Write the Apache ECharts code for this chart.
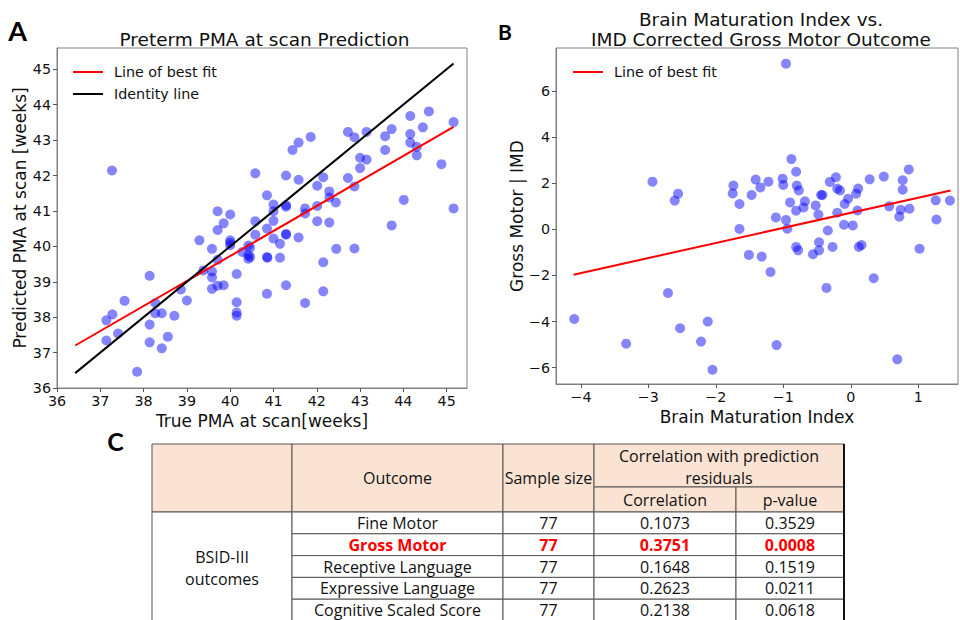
<!DOCTYPE html>
<html>
<head>
<meta charset="utf-8">
<title>PMA prediction and brain maturation index</title>
<script src="https://cdn.jsdelivr.net/npm/echarts@6/dist/echarts.min.js"></script>
<style>
  html, body { margin: 0; padding: 0; background: #fff; }
  #main { width: 960px; height: 620px; }
</style>
</head>
<body>
<div id="main"></div>
<script>
// panel A - true vs predicted PMA at scan (weeks)
const pmaPoints = [
  [37.27,42.14],[40.58,42.06],[40.85,41.44],[39.71,40.99],[40.0,40.9],[39.85,40.65],
  [39.71,40.46],[40.58,40.71],[40.85,40.5],[40.58,40.33],[39.29,40.17],[39.58,39.93],
  [40.0,40.17],[40.0,40.1],[40.0,40.03],[40.42,40.02],[40.28,39.84],[40.42,39.75],
  [40.42,39.65],[40.85,39.7],[39.71,39.62],[39.38,39.32],[39.58,39.29],[39.58,39.12],
  [40.15,39.22],[38.14,39.17],[38.86,38.78],[39.58,38.8],[39.71,38.89],[39.85,38.9],
  [39.0,38.47],[37.56,38.46],[40.85,38.66],[40.15,38.42],[38.27,38.4],[38.27,38.11],
  [38.42,38.11],[38.71,38.04],[40.15,38.13],[40.15,38.04],[37.14,37.91],[37.28,38.08],
  [38.14,37.79],[37.41,37.54],[37.14,37.34],[38.14,37.29],[38.56,37.45],[38.42,37.12],
  [37.85,36.46],[41.44,42.72],[41.58,42.93],[41.86,43.09],[42.72,43.23],[42.87,43.08],
  [43.15,43.23],[43.58,43.11],[43.73,43.31],[44.16,43.68],[44.59,43.81],[44.45,43.36],
  [45.16,43.51],[44.16,43.17],[44.16,42.93],[44.31,42.81],[44.31,42.57],[43.58,42.72],
  [43.0,42.5],[43.15,42.45],[43.0,42.21],[44.88,42.32],[41.29,42.0],[41.58,41.88],
  [42.15,41.95],[42.72,41.93],[42.01,41.71],[42.87,41.69],[42.29,41.55],[42.29,41.38],
  [42.44,41.24],[41.0,41.18],[41.0,40.99],[41.29,41.16],[41.29,41.12],[41.73,41.07],
  [41.73,40.93],[42.01,41.14],[44.01,41.31],[45.16,41.07],[41.0,40.72],[41.29,40.35],
  [41.29,40.33],[41.58,40.25],[42.01,40.71],[42.29,40.67],[43.73,40.59],[41.0,40.22],
  [41.15,40.07],[40.46,39.96],[40.46,39.7],[40.86,39.68],[41.15,39.68],[42.45,39.93],
  [42.87,39.94],[42.15,39.55],[41.29,38.9],[42.15,38.73],[41.73,38.4]
];
const pmaFitX = [36.42, 45.16];
const pmaFitY = [37.2, 43.37];
const pmaIdentX = [36.42, 45.16];
const pmaIdentY = [36.42, 45.16];
const pmaTicks = [36, 37, 38, 39, 40, 41, 42, 43, 44, 45];

// panel B - brain maturation index vs gross motor | IMD
const bmiPoints = [
  [-2.94,2.07],[-2.56,1.55],[-2.61,1.25],[-1.74,1.90],[-1.75,1.56],[-1.65,1.10],
  [-1.41,2.16],[-1.47,1.49],[-1.34,1.82],[-1.65,0.02],[-0.96,7.19],[-0.88,3.05],
  [-0.81,2.50],[0.86,2.60],[-1.22,2.07],[-1.01,2.20],[-1.00,1.93],[-0.80,1.90],
  [-0.77,1.69],[-0.90,1.17],[-0.68,1.22],[-0.70,0.95],[-0.81,0.81],[-0.52,1.04],
  [-0.44,1.49],[-0.42,1.49],[-0.48,0.64],[-1.11,0.52],[-0.96,0.41],[-0.94,0.03],
  [-0.31,2.06],[-0.22,2.26],[-0.20,1.77],[-0.16,1.69],[-0.04,1.33],[-0.09,1.10],
  [0.08,1.55],[0.11,1.77],[-0.20,0.72],[0.10,0.82],[-0.10,0.20],[0.03,0.17],
  [-0.34,-0.05],[0.28,2.17],[0.49,2.29],[0.77,2.13],[0.77,1.72],[0.57,1.00],
  [0.74,0.85],[0.87,0.90],[0.72,0.55],[1.26,1.26],[1.47,1.25],[1.27,0.43],
  [-0.81,-0.76],[-0.78,-0.91],[-0.47,-0.56],[-0.47,-0.91],[-0.56,-1.08],[-0.27,-0.76],
  [0.12,-0.76],[0.16,-0.68],[1.02,-0.84],[-1.51,-1.11],[-1.32,-1.18],[-1.19,-1.85],
  [0.34,-2.12],[-0.36,-2.54],[-1.10,-5.02],[0.69,-5.64],[-2.71,-2.76],[-4.10,-3.89],
  [-3.33,-4.96],[-2.53,-4.29],[-2.12,-4.00],[-2.22,-4.87],[-2.05,-6.09]
];
const bmiFitX = [-4.11, 1.48];
const bmiFitY = [-1.97, 1.69];
const bmiXTicks = [-4, -3, -2, -1, 0, 1];
const bmiYTicks = [-6, -4, -2, 0, 2, 4, 6];

// panel C - table
const tableOutcomes = ['Fine Motor', 'Gross Motor', 'Receptive Language', 'Expressive Language', 'Cognitive Scaled Score'];
const tableN = [77, 77, 77, 77, 77];
const tableCorr = [0.1073, 0.3751, 0.1648, 0.2623, 0.2138];
const tablePval = [0.3529, 0.0008, 0.1519, 0.0211, 0.0618];
const highlightRow = 1;

const font = 'DejaVu Sans';
const tblFont = 'Open Sans';
const dotColor = 'rgba(0,0,255,0.6)';
const spine = '#808080';
const minus = v => String(v).replace('-', '\u2212');

function axisBase(ticks, name, gap) {
  return {
    type: 'value',
    name: name,
    nameLocation: 'middle',
    nameGap: gap,
    nameTextStyle: { fontFamily: font, fontSize: 17, color: '#111' },
    axisLine: { show: true, onZero: false, lineStyle: { color: spine } },
    axisTick: { show: true, length: 4, customValues: ticks, lineStyle: { color: '#555' } },
    axisLabel: { customValues: ticks, margin: 6, fontFamily: font, fontSize: 14.3, color: '#111', formatter: minus },
    splitLine: { show: false }
  };
}

// table as graphic elements
const cols = [152, 292, 503, 594, 736, 844];
const tTop = 444, tSub = 487, tHead = 512, rowH = 21.8;
const peach = '#FBE3D4';
const gfx = [];
function cell(x1, y1, x2, y2, fill) {
  gfx.push({ type: 'rect', shape: { x: x1, y: y1, width: x2 - x1, height: y2 - y1 },
    style: { fill: fill, stroke: '#555', lineWidth: 1 }, z: 10 });
}
function txt(s, x, y, opts) {
  opts = opts || {};
  gfx.push({ type: 'text', x: x, y: y, z: 11,
    style: { text: s, fill: opts.color || '#111', align: 'center', verticalAlign: 'middle',
      textAlign: 'center', textVerticalAlign: 'middle',
      font: (opts.weight || 'normal') + ' ' + (opts.size || 16) + 'px ' + (opts.family || tblFont),
      lineHeight: opts.lh || 18 } });
}
const mid = (a, b) => (a + b) / 2;

cell(cols[0], tTop, cols[1], tHead, peach);
cell(cols[1], tTop, cols[2], tHead, peach);
cell(cols[2], tTop, cols[3], tHead, peach);
cell(cols[3], tTop, cols[5], tSub, peach);
cell(cols[3], tSub, cols[4], tHead, peach);
cell(cols[4], tSub, cols[5], tHead, peach);
txt('Outcome', mid(cols[1], cols[2]), mid(tTop, tHead));
txt('Sample size', mid(cols[2], cols[3]), mid(tTop, tHead));
txt('Correlation with prediction\nresiduals', mid(cols[3], cols[5]), mid(tTop, tSub) + 1, { lh: 22 });
txt('Correlation', mid(cols[3], cols[4]), mid(tSub, tHead));
txt('p-value', mid(cols[4], cols[5]), mid(tSub, tHead));

const bodyBottom = tHead + rowH * tableOutcomes.length;
cell(cols[0], tHead, cols[1], bodyBottom + 2, '#fff');
txt('BSID-III\noutcomes', mid(cols[0], cols[1]), mid(tHead, bodyBottom) + 1, { lh: 22 });
tableOutcomes.forEach((name, i) => {
  const y1 = tHead + rowH * i, y2 = y1 + rowH, yc = mid(y1, y2);
  const hl = i === highlightRow;
  const o = hl ? { color: '#ff0000', weight: 'bold' } : {};
  cell(cols[1], y1, cols[2], y2, '#fff');
  cell(cols[2], y1, cols[3], y2, '#fff');
  cell(cols[3], y1, cols[4], y2, '#fff');
  cell(cols[4], y1, cols[5], y2, '#fff');
  txt(name, mid(cols[1], cols[2]), yc, o);
  txt(String(tableN[i]), mid(cols[2], cols[3]), yc, o);
  txt(tableCorr[i].toFixed(4), mid(cols[3], cols[4]), yc, o);
  txt(tablePval[i].toFixed(4), mid(cols[4], cols[5]), yc, o);
});
gfx.push({ type: 'line', shape: { x1: cols[5], y1: tTop, x2: cols[5], y2: 620 },
  style: { stroke: '#111', lineWidth: 2 }, z: 12 });

// titles and panel letters
txt('Preterm PMA at scan Prediction', 264.5, 39.5, { family: font, size: 18.5, color: '#111', lh: 22 });
txt('Brain Maturation Index vs.\nIMD Corrected Gross Motor Outcome', 761, 29.5, { family: font, size: 18.5, color: '#111', lh: 19.5 });
txt('A', 17.5, 30, { family: 'Lato', size: 27, weight: 'bold', color: '#000', lh: 30 });
txt('B', 505, 31, { family: 'Lato', size: 21, weight: 'bold', color: '#000', lh: 24 });
txt('C', 115.5, 441, { family: 'Lato', size: 25, weight: 'bold', color: '#000', lh: 28 });

const legendBase = {
  orient: 'vertical', icon: 'rect', itemWidth: 30, itemHeight: 2, itemGap: 4, selectedMode: false,
  textStyle: { fontFamily: font, fontSize: 14.3, color: '#111', lineHeight: 18, padding: [0, 0, 0, 6] }
};

const chart = echarts.init(document.getElementById('main'), null, { renderer: 'svg' });
const option = {
  animation: false,
  backgroundColor: '#fff',
  grid: [
    { left: 57, top: 48, width: 410, height: 340, show: true, borderColor: spine, borderWidth: 1, outerBoundsMode: 'none' },
    { left: 556, top: 48, width: 402, height: 336, show: true, borderColor: spine, borderWidth: 1, outerBoundsMode: 'none' }
  ],
  xAxis: [
    Object.assign(axisBase(pmaTicks, 'True PMA at scan[weeks]', 22), { gridIndex: 0, min: 36, max: 45.47 }),
    Object.assign(axisBase(bmiXTicks, 'Brain Maturation Index', 22), { gridIndex: 1, min: -4.37, max: 1.59 })
  ],
  yAxis: [
    Object.assign(axisBase(pmaTicks, 'Predicted PMA at scan [weeks]', 26), { gridIndex: 0, min: 36, max: 45.6 }),
    Object.assign(axisBase(bmiYTicks, 'Gross Motor | IMD', 24), { gridIndex: 1, min: -6.71, max: 7.87 })
  ],
  legend: [
    Object.assign({ data: ['Line of best fit', 'Identity line'], left: 68, top: 58 }, legendBase),
    Object.assign({ data: ['Line of best fit'], left: 568, top: 58 }, legendBase)
  ],
  graphic: gfx,
  series: [
    { type: 'scatter', xAxisIndex: 0, yAxisIndex: 0, data: pmaPoints, symbolSize: 10,
      itemStyle: { color: dotColor }, z: 2 },
    { type: 'line', name: 'Line of best fit', xAxisIndex: 0, yAxisIndex: 0, color: '#ff0000',
      data: pmaFitX.map((x, i) => [x, pmaFitY[i]]), symbol: 'none', lineStyle: { color: '#ff0000', width: 2 }, z: 3 },
    { type: 'line', name: 'Identity line', xAxisIndex: 0, yAxisIndex: 0, color: '#000',
      data: pmaIdentX.map((x, i) => [x, pmaIdentY[i]]), symbol: 'none', lineStyle: { color: '#000', width: 2 }, z: 3 },
    { type: 'scatter', xAxisIndex: 1, yAxisIndex: 1, data: bmiPoints, symbolSize: 10,
      itemStyle: { color: dotColor }, z: 2 },
    { type: 'line', name: 'Line of best fit', xAxisIndex: 1, yAxisIndex: 1, color: '#ff0000',
      data: bmiFitX.map((x, i) => [x, bmiFitY[i]]), symbol: 'none', lineStyle: { color: '#ff0000', width: 2 }, z: 3 }
  ]
};
chart.setOption(option);
</script>
</body>
</html>
